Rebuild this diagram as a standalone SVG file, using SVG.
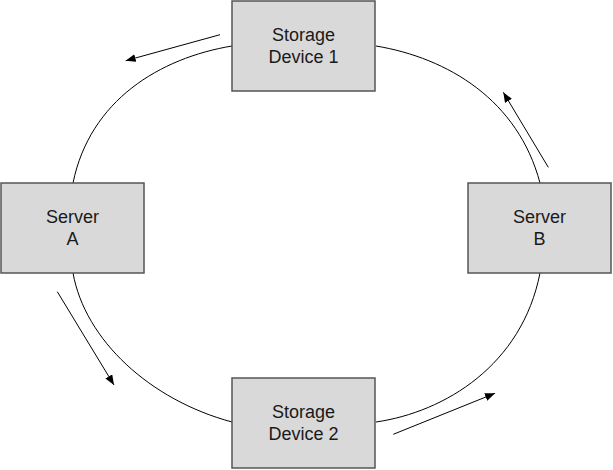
<svg xmlns="http://www.w3.org/2000/svg" width="613" height="470" viewBox="0 0 613 470">
  <style>
    .box { fill: #d9d9d9; stroke: #555555; stroke-width: 1.5; }
    .lbl { font-family: "Liberation Sans", Arial, sans-serif; font-size: 18px; fill: #1a1a1a; text-anchor: middle; }
    .link { fill: none; stroke: #000000; stroke-width: 1; }
    .flow { fill: none; stroke: #000000; stroke-width: 1; marker-end: url(#arrow); }
  </style>
  <defs>
    <marker id="arrow" markerUnits="userSpaceOnUse" markerWidth="11" markerHeight="8" refX="10" refY="4" orient="auto">
      <path d="M0,0 L10,4 L0,8 z" fill="#000000"/>
    </marker>
  </defs>
  <rect width="613" height="470" fill="#ffffff"/>
  <g id="connectors">
    <path class="link" d="M232,46 C160,58 90,100 73,183"/>
    <path class="link" d="M376,46 C448,58 518,100 540,183"/>
    <path class="link" d="M73,273 C85,340 150,400 232,422"/>
    <path class="link" d="M376,422 C445,412 522,365 540,273"/>
    <line class="flow" x1="220" y1="34.7" x2="125.7" y2="60.7"/>
    <line class="flow" x1="548.3" y1="167.3" x2="503.3" y2="92.3"/>
    <line class="flow" x1="57.3" y1="291.7" x2="114" y2="385"/>
    <line class="flow" x1="393.3" y1="434.3" x2="495" y2="393.3"/>
  </g>
  <g id="storage1">
    <rect class="box" x="232" y="1" width="143" height="90"/>
    <text class="lbl" x="303.5" y="40.5">Storage</text>
    <text class="lbl" x="303.5" y="62.5">Device 1</text>
  </g>
  <g id="serverA">
    <rect class="box" x="1" y="183" width="143" height="90"/>
    <text class="lbl" x="72.5" y="222.5">Server</text>
    <text class="lbl" x="72.5" y="244.5">A</text>
  </g>
  <g id="serverB">
    <rect class="box" x="468" y="183" width="143" height="90"/>
    <text class="lbl" x="539.5" y="222.5">Server</text>
    <text class="lbl" x="539.5" y="244.5">B</text>
  </g>
  <g id="storage2">
    <rect class="box" x="232" y="378" width="143" height="90"/>
    <text class="lbl" x="303.5" y="417.5">Storage</text>
    <text class="lbl" x="303.5" y="439.5">Device 2</text>
  </g>
</svg>
